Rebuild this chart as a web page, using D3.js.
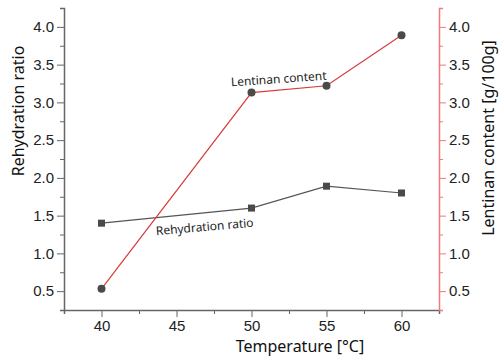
<!DOCTYPE html>
<html>
<head>
<meta charset="utf-8">
<script src="https://cdn.jsdelivr.net/npm/d3@7"></script>
<style>
  body { margin: 0; background: #fff; }
  svg { font-family: "Noto Sans", "Open Sans", sans-serif; }
  .tick text { fill: #222; font-size: 15px; }
</style>
</head>
<body>
<svg width="500" height="358"></svg>
<script>
const temperatures = [40, 50, 55, 60];
const rehydration = [1.40, 1.60, 1.89, 1.80];
const lentinan = [0.53, 3.13, 3.22, 3.89];
const xTicks = [40, 45, 50, 55, 60];
const yTicks = [0.5, 1.0, 1.5, 2.0, 2.5, 3.0, 3.5, 4.0];

const svg = d3.select('svg');
const plotLeft = 64, plotRight = 439, plotTop = 8, plotBottom = 310;

const x = d3.scaleLinear().domain([37.5, 62.5]).range([plotLeft, plotRight]);
const y = d3.scaleLinear().domain([0.25, 4.25]).range([plotBottom, plotTop]);

const axisGray = '#666';
const red = '#d93a3a';
const redAxis = '#f07a7a';
const isMajor = d => Math.abs(d * 2 - Math.round(d * 2)) < 0.01;

// bottom axis
const xAxis = svg.append('g').attr('transform', `translate(0,${plotBottom})`);
xAxis.call(d3.axisBottom(x).tickValues(d3.range(37.5, 62.6, 2.5)).tickSize(4).tickFormat(''));
xAxis.selectAll('.tick line').attr('stroke', axisGray).attr('y2', d => xTicks.includes(d) ? 7 : 4);
xAxis.select('.domain').attr('stroke', axisGray).attr('stroke-width', 1.5);
const xLab = svg.append('g').attr('transform', `translate(0,${plotBottom})`)
    .call(d3.axisBottom(x).tickValues(xTicks).tickSize(0).tickPadding(10));
xLab.select('.domain').remove();

// left axis
const yAxis = svg.append('g').attr('transform', `translate(${plotLeft},0)`);
yAxis.call(d3.axisLeft(y).tickValues(d3.range(0.25, 4.26, 0.25)).tickSize(4).tickFormat(''));
yAxis.selectAll('.tick line').attr('stroke', axisGray).attr('x2', d => isMajor(d) ? -7 : -4);
yAxis.select('.domain').attr('stroke', axisGray).attr('stroke-width', 1.5);
const yLab = svg.append('g').attr('transform', `translate(${plotLeft},0)`)
    .call(d3.axisLeft(y).tickValues(yTicks).tickSize(0).tickPadding(10).tickFormat(d3.format('.1f')));
yLab.select('.domain').remove();

// right axis
const y2Axis = svg.append('g').attr('transform', `translate(${plotRight},0)`);
y2Axis.call(d3.axisRight(y).tickValues(d3.range(0.25, 4.26, 0.25)).tickSize(4).tickFormat(''));
y2Axis.selectAll('.tick line').attr('stroke', redAxis).attr('x2', d => isMajor(d) ? 7 : 4);
y2Axis.select('.domain').attr('stroke', redAxis).attr('stroke-width', 1.5);
const y2Lab = svg.append('g').attr('transform', `translate(${plotRight},0)`)
    .call(d3.axisRight(y).tickValues(yTicks).tickSize(0).tickPadding(10).tickFormat(d3.format('.1f')));
y2Lab.select('.domain').remove();

// lines
const line = d3.line().x(d => x(d[0])).y(d => y(d[1]));
svg.append('path')
    .datum(d3.zip(temperatures, rehydration))
    .attr('d', line)
    .attr('fill', 'none')
    .attr('stroke', '#555')
    .attr('stroke-width', 1.2);
svg.append('path')
    .datum(d3.zip(temperatures, lentinan))
    .attr('d', line)
    .attr('fill', 'none')
    .attr('stroke', red)
    .attr('stroke-width', 1.2);

svg.selectAll('.sq')
    .data(d3.zip(temperatures, rehydration))
    .enter().append('rect')
    .attr('x', d => x(d[0]) - 3.5)
    .attr('y', d => y(d[1]) - 3.5)
    .attr('width', 7).attr('height', 7)
    .attr('fill', '#4a4a4a');
svg.selectAll('.dot')
    .data(d3.zip(temperatures, lentinan))
    .enter().append('circle')
    .attr('cx', d => x(d[0]))
    .attr('cy', d => y(d[1]))
    .attr('r', 4)
    .attr('fill', '#4a4a4a');

// annotations
svg.append('text')
    .attr('transform', 'translate(279,83) rotate(-4)')
    .attr('text-anchor', 'middle')
    .attr('font-size', 12)
    .attr('fill', '#222')
    .text('Lentinan content');
svg.append('text')
    .attr('transform', 'translate(205,231) rotate(-5)')
    .attr('text-anchor', 'middle')
    .attr('font-size', 12)
    .attr('fill', '#222')
    .text('Rehydration ratio');

// axis titles
svg.append('text')
    .attr('x', 300).attr('y', 352)
    .attr('text-anchor', 'middle')
    .attr('font-size', 16)
    .attr('fill', '#111')
    .text('Temperature [°C]');
svg.append('text')
    .attr('transform', 'translate(24,111) rotate(-90)')
    .attr('text-anchor', 'middle')
    .attr('font-size', 16)
    .attr('fill', '#111')
    .text('Rehydration ratio');
svg.append('text')
    .attr('transform', 'translate(494,138) rotate(-90)')
    .attr('text-anchor', 'middle')
    .attr('font-size', 16)
    .attr('fill', '#111')
    .text('Lentinan content [g/100g]');
</script>
</body>
</html>
